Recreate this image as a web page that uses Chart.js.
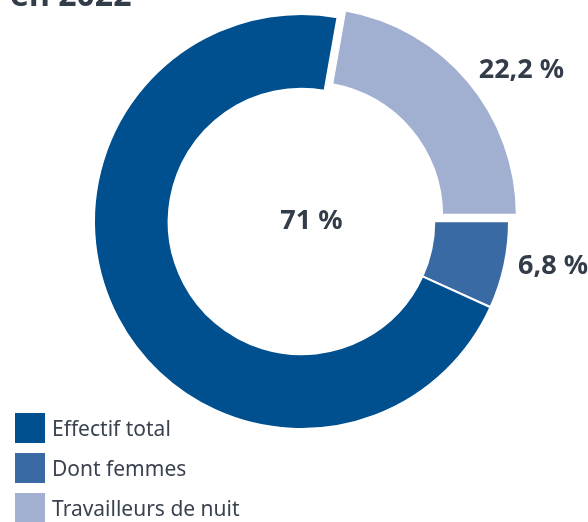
<!DOCTYPE html>
<html lang="fr">
<head>
<meta charset="utf-8">
<title>Effectif en 2022</title>
<script src="https://cdn.jsdelivr.net/npm/chart.js@4.4.1/dist/chart.umd.min.js"></script>
<style>
  html, body { margin: 0; padding: 0; background: #fff; }
  #wrap { position: relative; width: 588px; height: 522px; overflow: hidden; }
  #donut { position: absolute; left: 0; top: -20px; }
  #title {
    position: absolute; left: 10px; top: -28px;
    font: bold 32px "Noto Sans", sans-serif; color: #333c49; white-space: nowrap;
  }
  #legend { position: absolute; left: 15px; top: 408px; margin: 0; padding: 0; list-style: none; }
  #legend li { display: flex; align-items: center; height: 40px; font: 21px "Noto Sans", sans-serif; color: #3a4250; }
  #legend span { display: inline-block; width: 30px; height: 30px; margin-right: 7px; }
</style>
</head>
<body>
<div id="wrap">
  <canvas id="donut" width="588" height="560"></canvas>
  <div id="title">en 2022</div>
  <ul id="legend"></ul>
</div>
<script>
// slices in drawing order (clockwise from just past the top)
var labels = ['Travailleurs de nuit', 'Dont femmes', 'Effectif total'];
var values = [22.2, 6.8, 71];
var colors = ['#a1afd0', '#3a6aa3', '#00508f'];
var offsets = [40, 0, 0];
// legend reads top-down in this order
var legendOrder = [2, 1, 0];
var centerIndex = 2;

function fmt(v) {
  return String(v).replace('.', ',') + ' %';
}

// html legend
var ul = document.getElementById('legend');
legendOrder.forEach(function(i) {
  var li = document.createElement('li');
  var sw = document.createElement('span');
  sw.style.background = colors[i];
  li.appendChild(sw);
  li.appendChild(document.createTextNode(labels[i]));
  ul.appendChild(li);
});

// percentage labels: outside labels for the small slices, big one in the hole
var sliceLabels = {
  id: 'sliceLabels',
  afterDatasetsDraw: function(chart) {
    var ctx = chart.ctx;
    var arcs = chart.getDatasetMeta(0).data;
    ctx.save();
    ctx.fillStyle = '#333c49';
    ctx.font = 'bold 27px "Noto Sans", sans-serif';
    ctx.textBaseline = 'middle';
    arcs.forEach(function(arc, i) {
      var p = arc.getProps(['x', 'y', 'startAngle', 'endAngle', 'outerRadius']);
      if (i === centerIndex) {
        ctx.textAlign = 'center';
        ctx.fillText(fmt(values[i]), p.x + 10, p.y);
        return;
      }
      var mid = (p.startAngle + p.endAngle) / 2;
      var r = p.outerRadius + 14 + offsets[i] / 4;
      ctx.textAlign = 'left';
      ctx.fillText(fmt(values[i]), p.x + Math.cos(mid) * r, p.y + Math.sin(mid) * r - 2);
    });
    ctx.restore();
  }
};

var ctx = document.getElementById('donut').getContext('2d');
new Chart(ctx, {
  type: 'doughnut',
  data: {
    labels: labels,
    datasets: [{
      data: values,
      backgroundColor: colors,
      borderColor: '#ffffff',
      borderWidth: 2,
      // arc offset is applied at a quarter of this value
      offset: offsets
    }]
  },
  options: {
    responsive: false,
    animation: false,
    rotation: 10,
    cutout: '64%',
    layout: { padding: { top: 13, bottom: 90, left: 73, right: 58 } },
    plugins: {
      legend: { display: false },
      tooltip: { enabled: false }
    }
  },
  plugins: [sliceLabels]
});
</script>
</body>
</html>
